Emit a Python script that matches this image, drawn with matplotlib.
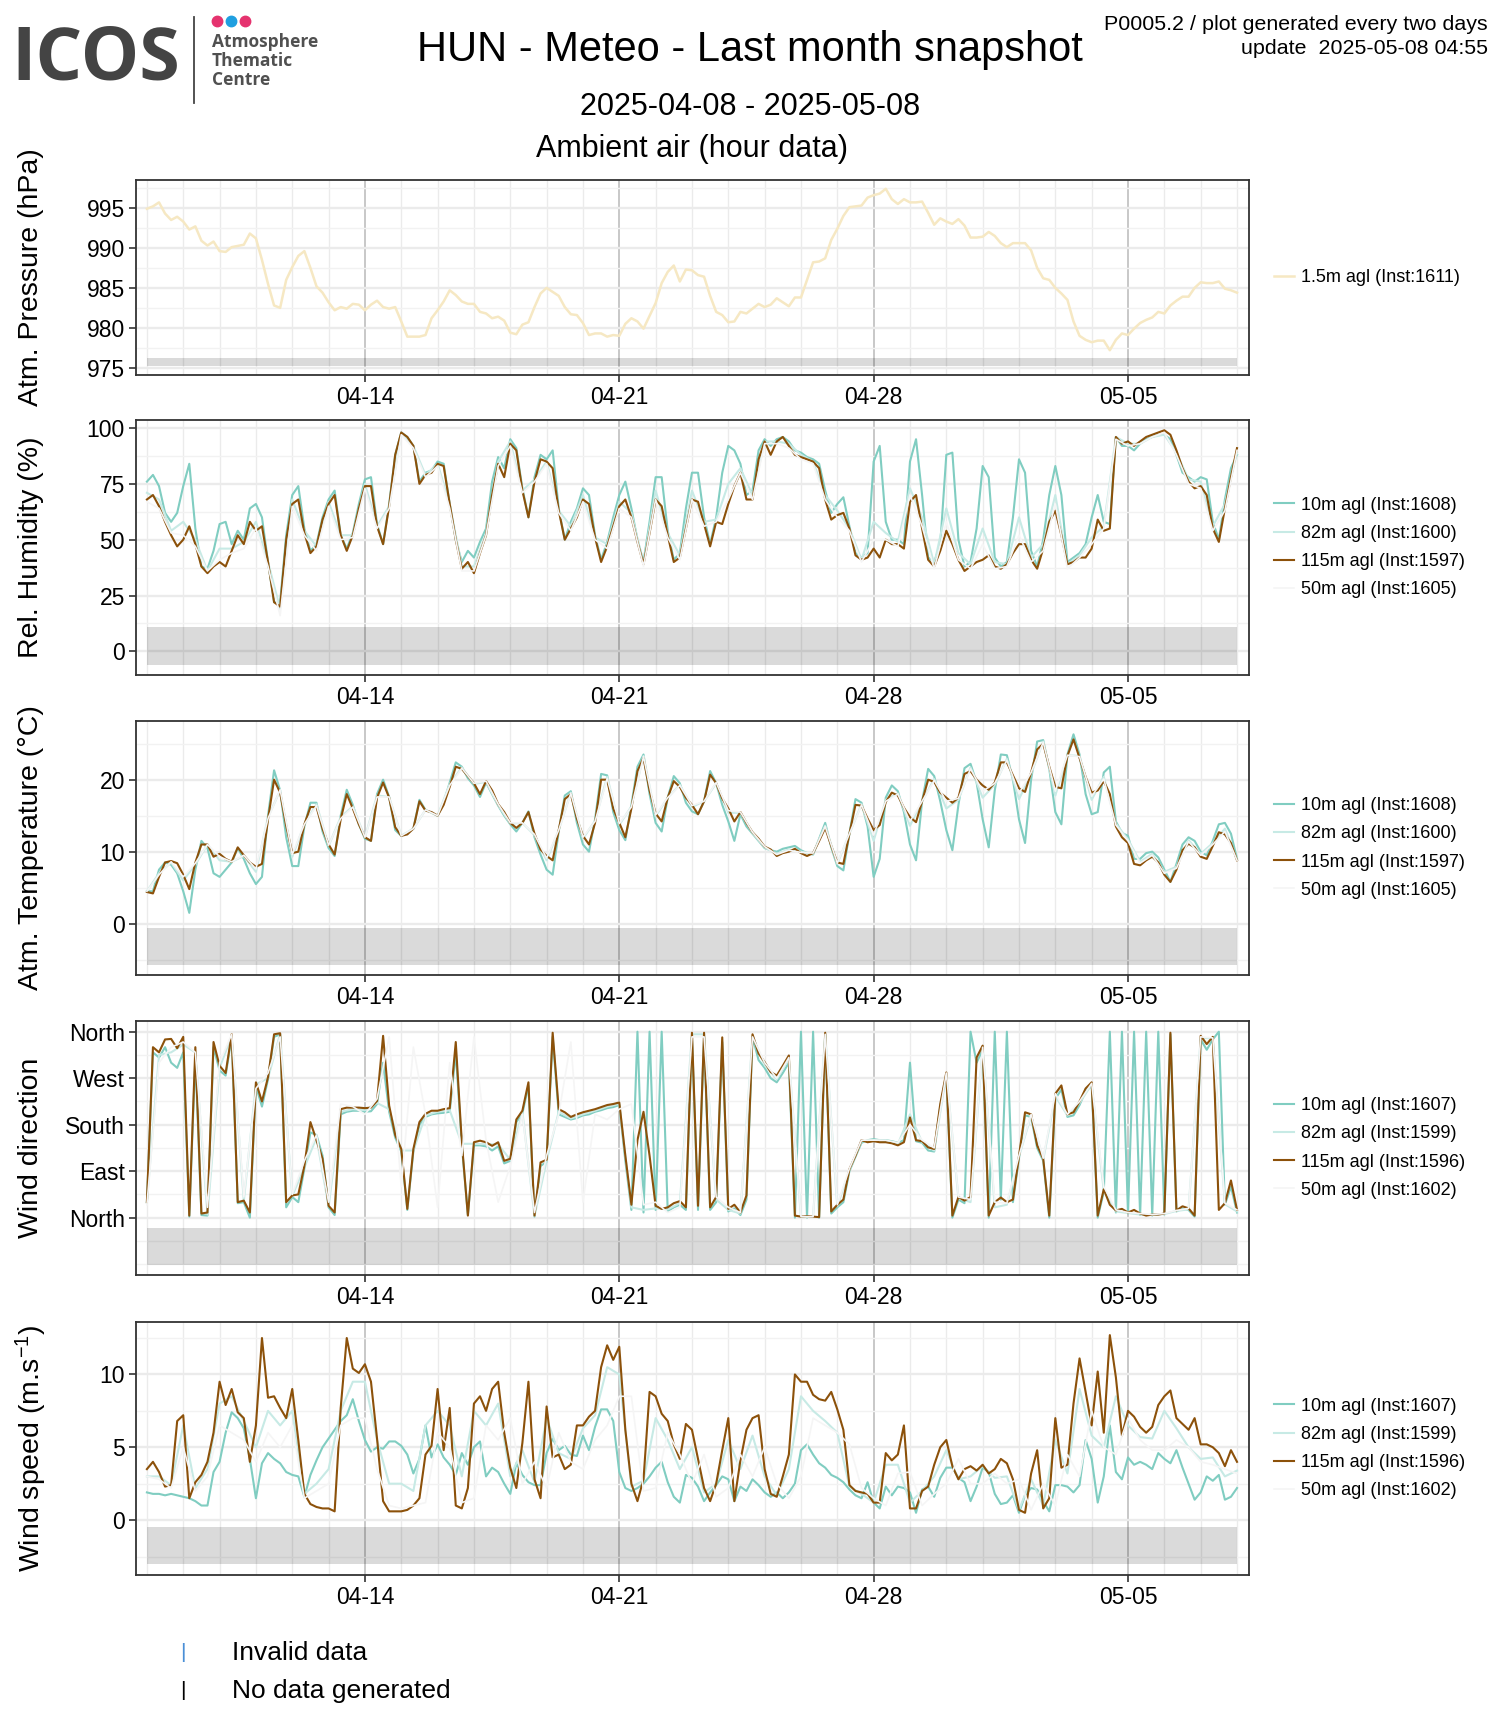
import numpy as np
import matplotlib
matplotlib.use('Agg')
import matplotlib.pyplot as plt
import matplotlib.dates as mdates
from matplotlib.lines import Line2D

plt.rcParams['font.family'] = ['Liberation Sans', 'DejaVu Sans']
plt.rcParams['mathtext.fontset'] = 'custom'
plt.rcParams['mathtext.rm'] = 'Liberation Sans'
plt.rcParams['mathtext.it'] = 'Liberation Sans:italic'

# ---- data (hourly snapshot, 4 h / 8 h steps) ----
start = np.datetime64('2025-04-08T00:00')

pressure_15 = [
    994.9, 995.2, 995.7, 994.3, 993.5, 993.9, 993.3, 992.3, 992.7, 990.9,
    990.3, 990.8, 989.6, 989.5, 990.1, 990.25, 990.4, 991.8, 991.2, 988.5,
    985.5, 982.8, 982.5, 986.0, 987.6, 989.0, 989.6, 987.5, 985.2, 984.4,
    983.2, 982.2, 982.6, 982.4, 983.0, 982.9, 982.2, 982.9, 983.4, 982.6,
    982.4, 982.6, 980.8, 978.9, 978.9, 978.9, 979.1, 981.2, 982.2, 983.3,
    984.7, 984.1, 983.3, 983.0, 983.0, 982.0, 981.8, 981.2, 981.4, 980.9,
    979.4, 979.2, 980.4, 980.7, 982.6, 984.3, 985.0, 984.5, 984.0, 982.6,
    981.7, 981.6, 980.6, 979.1, 979.3, 979.3, 978.9, 979.1, 979.0, 980.5,
    981.2, 980.8, 979.9, 981.5, 983.1, 985.6, 987.0, 987.8, 985.8, 987.3,
    987.2, 986.6, 986.4, 984.0, 982.0, 981.6, 980.7, 980.8, 982.0, 981.8,
    982.4, 983.0, 982.6, 982.9, 983.7, 983.2, 982.7, 983.8, 983.8, 986.0,
    988.2, 988.3, 988.7, 991.0, 992.4, 994.0, 995.1, 995.2, 995.3, 996.3,
    996.6, 996.8, 997.4, 996.1, 995.5, 996.1, 995.7, 995.7, 995.8, 994.4,
    992.9, 993.7, 993.3, 993.0, 993.6, 992.8, 991.3, 991.3, 991.4, 992.0,
    991.5, 990.6, 990.1, 990.6, 990.6, 990.6, 989.7, 987.5, 986.2, 986.0,
    985.0, 984.3, 983.5, 980.8, 979.0, 978.5, 978.2, 978.4, 978.4, 977.2,
    978.5, 979.3, 979.1, 979.9, 980.6, 981.0, 981.3, 982.0, 981.8, 982.8,
    983.4, 983.9, 983.9, 985.0, 985.7, 985.6, 985.6, 985.8, 984.9, 984.7,
    984.4]

rh_10 = [
    76, 79, 74, 62, 58, 62, 74, 84, 55, 38, 37, 45, 57, 58, 48, 54, 50, 64, 66, 60,
    40, 22, 22, 52, 70, 74, 55, 45, 48, 60, 68, 72, 52, 46, 53, 66, 77, 78, 57, 48,
    66, 88, 98, 96, 92, 76, 80, 81, 85, 84, 66, 50, 40, 45, 42, 49, 55, 76, 87, 82,
    95, 91, 73, 60, 78, 88, 86, 90, 64, 50, 58, 64, 73, 70, 52, 41, 49, 60, 70, 76,
    64, 50, 40, 58, 78, 78, 54, 41, 44, 64, 80, 80, 60, 48, 60, 80, 92, 90, 84, 70,
    72, 90, 95, 92, 95, 96, 94, 90, 89, 87, 86, 84, 72, 62, 66, 69, 56, 44, 42, 44,
    85, 92, 58, 50, 50, 48, 85, 95, 70, 42, 40, 48, 88, 89, 50, 38, 40, 55, 83, 78,
    42, 38, 40, 60, 86, 80, 45, 38, 50, 70, 83, 70, 40, 42, 44, 48, 60, 70, 58, 57,
    96, 92, 92, 90, 93, 95, 96, 97, 97, 95, 88, 80, 78, 76, 78, 77, 58, 50, 68, 82,
    88]
rh_115 = [
    68, 70, 65, 58, 52, 47, 50, 56, 48, 38, 35, 38, 40, 38, 45, 52, 48, 58, 54, 56,
    40, 22, 20, 50, 66, 68, 53, 44, 47, 59, 66, 70, 52, 45, 52, 64, 74, 74, 56, 48,
    65, 88, 98, 96, 92, 75, 79, 80, 84, 83, 66, 50, 37, 40, 35, 44, 52, 70, 84, 78,
    93, 90, 72, 60, 76, 86, 85, 82, 63, 50, 55, 60, 68, 66, 51, 40, 47, 56, 65, 68,
    60, 49, 39, 53, 68, 65, 52, 40, 42, 55, 68, 67, 57, 47, 58, 57, 66, 74, 80, 68,
    68, 86, 94, 88, 94, 96, 92, 88, 87, 86, 85, 82, 68, 59, 61, 62, 55, 43, 41, 42,
    46, 42, 50, 48, 48, 46, 67, 70, 55, 41, 38, 45, 54, 48, 41, 36, 38, 40, 41, 43,
    38, 37, 39, 44, 48, 48, 41, 37, 46, 58, 63, 52, 39, 40, 42, 42, 46, 59, 54, 55,
    96, 93, 94, 92, 94, 96, 97, 98, 99, 97, 90, 82, 76, 73, 74, 70, 55, 49, 64, 78,
    91]
rh_82 = [
    71, 68, 54, 58, 50, 36, 46, 46, 49, 58, 40, 19, 68, 54, 47, 67, 52, 52, 75, 56,
    65, 98, 92, 79, 84, 66, 38, 38, 53, 85, 94, 72, 77, 85, 63, 56, 70, 51, 48, 67,
    62, 39, 72, 53, 43, 72, 58, 59, 75, 82, 70, 94, 94, 93, 88, 85, 70, 63, 55, 41,
    58, 53, 49, 73, 60, 39, 64, 44, 39, 55, 40, 39, 60, 42, 48, 70, 39, 43, 51, 56,
    96, 93, 93, 96, 97, 89, 77, 76, 56, 66, 89]
rh_50 = [
    67, 64, 53, 52, 47, 36, 41, 44, 46, 55, 38, 16, 65, 52, 45, 65, 50, 51, 73, 55,
    64, 97, 91, 78, 83, 64, 36, 36, 52, 83, 92, 71, 76, 84, 62, 54, 67, 50, 46, 64,
    60, 38, 68, 51, 41, 68, 56, 58, 68, 80, 68, 93, 93, 91, 86, 84, 68, 60, 54, 40,
    50, 50, 47, 70, 56, 37, 58, 41, 37, 48, 37, 38, 52, 40, 45, 66, 37, 42, 48, 55,
    95, 92, 93, 96, 98, 88, 75, 73, 54, 63, 90]

temp_10 = [
    4.5, 4.5, 7.5, 8.5, 8.2, 7.0, 4.5, 1.5, 7.5, 11.5, 10.5, 7.0, 6.5, 7.5, 8.5, 10.5, 9.0, 7.0, 5.5, 6.5,
    15.0, 21.3, 18.5, 12.0, 8.0, 8.0, 13.5, 16.8, 16.8, 12.8, 10.5, 9.4, 15.0, 18.6, 16.5, 13.8, 11.8, 11.5, 18.0, 20.0,
    17.6, 13.0, 12.2, 12.6, 13.2, 17.2, 15.8, 15.4, 15.0, 16.8, 19.6, 22.4, 21.8, 20.2, 19.2, 17.6, 19.6, 18.0, 16.4, 15.0,
    13.8, 12.8, 14.0, 15.6, 12.0, 9.6, 7.5, 6.8, 12.8, 17.8, 18.4, 14.0, 11.0, 10.0, 14.5, 20.8, 20.6, 15.5, 13.0, 11.6,
    16.5, 21.8, 23.5, 18.0, 14.0, 12.8, 17.5, 20.5, 19.5, 16.8, 15.6, 15.2, 17.0, 21.2, 19.5, 16.5, 14.2, 11.5, 15.2, 13.5,
    12.5, 11.5, 10.5, 10.2, 10.0, 10.4, 10.6, 10.8, 10.2, 9.8, 9.6, 11.8, 14.0, 10.6, 8.0, 7.4, 12.5, 17.3, 16.8, 13.5,
    6.5, 9.0, 17.5, 19.2, 18.4, 15.5, 11.0, 8.8, 17.0, 21.5, 20.5, 17.0, 13.0, 10.2, 16.5, 21.6, 22.2, 19.6, 14.5, 10.6,
    18.5, 23.5, 23.4, 20.0, 14.5, 11.2, 20.0, 25.3, 25.5, 21.5, 15.5, 13.8, 23.5, 26.3, 23.5, 18.0, 15.2, 15.5, 21.0, 21.8,
    14.2, 12.6, 12.2, 9.0, 9.0, 9.8, 10.0, 9.2, 7.5, 5.8, 8.3, 11.0, 12.0, 11.5, 10.0, 9.5, 11.5, 13.8, 14.0, 12.5,
    9.0]
temp_115 = [
    4.4, 4.2, 6.5, 8.5, 8.7, 8.4, 6.8, 4.8, 8.5, 11.0, 11.0, 9.3, 9.7, 9.0, 8.6, 10.6, 9.5, 8.5, 7.9, 8.3,
    14.5, 20.0, 18.2, 13.6, 9.8, 10.0, 13.8, 16.2, 16.2, 13.2, 11.0, 9.6, 14.5, 18.0, 16.0, 13.8, 12.0, 11.5, 17.5, 19.6,
    17.5, 13.4, 12.2, 12.4, 13.2, 17.0, 15.7, 15.5, 15.0, 16.5, 19.0, 21.8, 21.5, 20.5, 19.5, 18.0, 19.8, 18.5, 16.6, 15.5,
    14.0, 13.3, 14.0, 15.5, 12.5, 10.3, 9.4, 8.8, 13.0, 17.3, 18.0, 14.6, 12.2, 11.0, 14.0, 20.0, 20.0, 16.0, 14.0, 12.0,
    16.0, 21.2, 23.0, 18.5, 15.3, 14.2, 17.5, 19.8, 19.0, 17.5, 16.5, 15.2, 17.0, 20.7, 19.5, 17.4, 16.0, 14.2, 15.5, 14.0,
    12.7, 11.8, 10.7, 10.3, 9.4, 9.8, 10.0, 10.4, 9.8, 9.4, 9.8, 11.5, 13.3, 10.8, 8.5, 8.3, 12.5, 16.5, 16.4, 14.6,
    13.0, 13.7, 16.9, 18.2, 17.8, 16.1, 14.8, 14.1, 17.0, 20.0, 19.7, 18.2, 17.5, 16.8, 17.5, 20.8, 21.2, 20.0, 19.2, 18.6,
    19.6, 22.4, 22.4, 20.6, 18.8, 18.3, 21.0, 24.2, 25.0, 21.8, 19.0, 18.8, 23.3, 25.6, 23.0, 20.4, 18.2, 18.5, 19.8, 18.0,
    13.5, 12.0, 11.2, 8.3, 8.1, 8.8, 9.3, 8.5, 6.8, 5.8, 7.5, 10.2, 11.1, 10.6, 9.3, 9.0, 10.8, 12.7, 12.4, 11.2,
    8.8]
temp_82 = [
    4.5, 7.0, 8.5, 6.0, 8.2, 11.0, 8.8, 8.6, 9.4, 7.2, 14.8, 18.5, 9.3, 13.8, 16.6, 10.8, 14.8, 16.3, 12.0, 17.8,
    17.6, 12.2, 13.2, 15.8, 15.0, 19.4, 21.7, 19.4, 19.7, 16.5, 13.9, 14.0, 12.3, 8.8, 13.0, 18.2, 11.8, 14.3, 20.4, 13.7,
    16.3, 23.3, 14.9, 17.5, 19.3, 16.2, 17.0, 19.5, 15.4, 15.4, 12.6, 10.6, 9.7, 10.3, 10.0, 9.7, 13.6, 8.3, 12.5, 16.6,
    11.5, 17.2, 18.1, 13.6, 17.0, 20.1, 16.0, 17.2, 21.7, 17.5, 19.3, 22.9, 17.3, 20.8, 25.3, 17.8, 23.4, 23.3, 17.2, 20.4,
    13.9, 11.7, 8.6, 9.7, 7.2, 7.9, 11.6, 9.7, 11.2, 13.2, 8.9]
temp_50 = [
    4.5, 6.8, 8.6, 6.5, 8.4, 11.0, 9.3, 8.6, 9.5, 7.6, 14.6, 18.6, 9.6, 13.8, 16.4, 10.9, 14.6, 16.2, 12.0, 17.6,
    17.6, 12.2, 13.2, 15.8, 15.0, 19.2, 21.6, 19.5, 19.8, 16.6, 14.0, 14.0, 12.4, 9.1, 13.0, 18.1, 12.0, 14.2, 20.2, 13.9,
    16.2, 23.2, 15.1, 17.5, 19.2, 16.4, 17.0, 19.6, 15.7, 15.5, 12.7, 10.7, 9.6, 10.2, 9.9, 9.8, 13.5, 8.4, 12.5, 16.5,
    12.3, 17.0, 18.0, 14.2, 17.0, 19.9, 17.0, 17.4, 21.5, 18.4, 19.5, 22.7, 18.1, 21.0, 25.2, 18.4, 23.4, 23.2, 17.7, 20.1,
    13.7, 11.5, 8.4, 9.5, 7.0, 7.7, 11.4, 9.5, 11.0, 12.8, 8.8]

wd_10 = [
    30, 320, 310, 330, 300, 290, 320, 2, 310, 5, 4, 330, 285, 275, 350, 28, 30, 0, 255, 215,
    268, 350, 355, 20, 40, 30, 95, 165, 160, 120, 20, 5, 200, 205, 207, 207, 205, 206, 220, 300,
    205, 155, 128, 15, 128, 180, 195, 200, 202, 203, 205, 320, 140, 5, 140, 140, 138, 130, 138, 105,
    110, 185, 202, 255, 2, 100, 108, 350, 200, 195, 190, 193, 198, 200, 205, 208, 212, 214, 218, 110,
    15, 360, 10, 360, 15, 360, 12, 20, 25, 15, 350, 15, 350, 15, 30, 340, 12, 18, 5, 35,
    350, 305, 290, 270, 262, 280, 300, 0, 360, 0, 360, 0, 355, 8, 20, 30, 90, 118, 145, 150,
    152, 150, 150, 148, 145, 150, 300, 148, 145, 130, 128, 215, 275, 0, 35, 28, 360, 300, 325, 0,
    360, 35, 360, 30, 115, 198, 195, 135, 110, 0, 230, 248, 195, 198, 218, 245, 255, 0, 50, 360,
    10, 360, 8, 360, 5, 360, 4, 360, 6, 355, 12, 18, 15, 2, 345, 325, 345, 360, 25, 60,
    10]
wd_115 = [
    30, 330, 320, 345, 346, 328, 350, 4, 330, 8, 10, 340, 294, 280, 355, 30, 33, 10, 262, 225,
    272, 355, 357, 30, 43, 45, 100, 185, 150, 114, 23, 10, 210, 213, 213, 213, 212, 213, 226, 352,
    217, 160, 133, 17, 133, 185, 201, 207, 207, 210, 212, 340, 146, 4, 146, 149, 146, 139, 146, 110,
    114, 190, 207, 262, 4, 107, 112, 358, 210, 204, 195, 200, 204, 207, 210, 214, 218, 220, 223, 120,
    25, 150, 205, 120, 23, 17, 20, 28, 32, 20, 358, 23, 358, 20, 40, 349, 17, 25, 10, 43,
    355, 318, 301, 282, 275, 294, 314, 4, 2, 3, 2, 1, 358, 12, 25, 35, 94, 120, 150, 146,
    148, 146, 146, 144, 140, 146, 194, 150, 148, 136, 133, 220, 281, 4, 40, 33, 40, 310, 333, 4,
    30, 39, 30, 35, 120, 204, 200, 140, 114, 4, 240, 256, 200, 204, 225, 250, 262, 4, 55, 25,
    14, 17, 10, 15, 8, 4, 6, 6, 8, 358, 14, 22, 18, 4, 352, 336, 350, 15, 28, 72,
    15]
wd_82 = [
    30, 315, 320, 335, 320, 6, 290, 352, 32, 258, 270, 356, 42, 97, 155, 22, 205, 210, 208, 222,
    210, 130, 130, 198, 205, 208, 143, 143, 142, 142, 112, 205, 3, 110, 205, 192, 200, 207, 215, 220,
    20, 15, 18, 16, 28, 355, 355, 35, 15, 8, 352, 295, 268, 308, 1, 2, 356, 22, 92, 148,
    150, 148, 142, 200, 146, 130, 278, 38, 30, 330, 20, 25, 118, 198, 112, 235, 198, 222, 258, 52,
    12, 9, 6, 5, 7, 13, 16, 348, 347, 26, 12]
wd_50 = [
    25, 300, 330, 340, 320, 20, 300, 355, 40, 250, 280, 350, 45, 110, 160, 30, 220, 215, 200, 230,
    350, 60, 330, 200, 20, 300, 120, 350, 150, 30, 100, 200, 10, 120, 200, 340, 30, 200, 190, 210,
    220, 25, 30, 10, 20, 350, 350, 40, 20, 10, 350, 300, 270, 310, 2, 2, 355, 25, 95, 150,
    150, 150, 145, 180, 150, 135, 280, 40, 35, 330, 30, 28, 120, 200, 115, 240, 200, 225, 260, 60,
    15, 10, 8, 6, 8, 14, 18, 350, 348, 28, 15]

ws_10 = [
    1.9, 1.8, 1.8, 1.7, 1.8, 1.7, 1.6, 1.5, 1.3, 1.0, 1.0, 3.3, 4.0, 6.0, 7.4, 7.0, 6.3, 4.2, 1.5, 3.9,
    4.6, 4.2, 3.9, 3.3, 3.1, 3.0, 1.6, 3.1, 4.1, 5.0, 5.6, 6.2, 6.8, 7.2, 8.3, 6.8, 5.5, 4.7, 5.0, 4.9,
    5.4, 5.4, 5.1, 4.5, 3.2, 4.2, 6.5, 4.3, 5.2, 4.3, 3.8, 3.1, 4.6, 3.8, 5.0, 5.4, 3.0, 3.6, 3.3, 2.5,
    1.8, 3.9, 3.1, 2.6, 2.4, 2.4, 4.6, 5.6, 4.8, 5.1, 4.5, 4.4, 5.8, 4.8, 6.4, 7.6, 7.6, 6.8, 3.3, 2.2,
    2.0, 2.2, 2.5, 3.0, 3.6, 4.0, 2.6, 1.6, 1.2, 3.1, 2.9, 2.3, 1.3, 1.9, 2.4, 3.0, 2.8, 1.3, 2.3, 2.0,
    2.8, 2.4, 1.9, 1.6, 1.9, 1.5, 1.9, 2.5, 4.8, 5.2, 4.5, 3.9, 3.6, 3.1, 2.9, 2.6, 2.1, 1.7, 1.5, 2.6,
    1.2, 0.8, 2.3, 1.7, 2.3, 2.2, 1.9, 0.5, 2.1, 2.3, 1.6, 2.9, 3.6, 3.6, 2.9, 2.6, 1.3, 2.3, 3.6, 3.3,
    1.8, 1.1, 1.2, 1.7, 0.5, 1.7, 2.2, 2.1, 1.3, 0.6, 2.4, 2.4, 2.3, 1.9, 2.4, 5.5, 4.2, 1.2, 3.0, 6.5,
    3.3, 2.8, 4.3, 3.8, 4.0, 3.8, 3.5, 4.6, 4.2, 3.9, 4.8, 3.6, 2.5, 1.4, 1.9, 3.0, 2.7, 3.1, 1.4, 1.6,
    2.2]
ws_115 = [
    3.5, 4.0, 3.3, 2.3, 2.4, 6.8, 7.2, 1.5, 2.6, 3.1, 4.0, 6.0, 9.5, 7.9, 9.0, 7.4, 7.0, 4.0, 6.5, 12.5,
    8.4, 8.5, 7.7, 7.0, 9.0, 5.5, 1.8, 1.1, 0.9, 0.8, 0.8, 0.6, 7.7, 12.5, 10.4, 10.1, 10.7, 9.5, 5.6, 1.3,
    0.6, 0.6, 0.6, 0.7, 1.0, 1.5, 4.5, 5.1, 9.0, 4.8, 7.7, 1.0, 0.8, 2.2, 8.0, 8.5, 7.5, 9.0, 9.5, 6.0,
    3.6, 2.2, 5.3, 9.5, 2.8, 1.5, 7.8, 4.3, 4.5, 3.5, 3.8, 6.5, 6.5, 7.1, 7.5, 10.5, 12.0, 11.0, 11.9, 6.2,
    2.5, 1.3, 2.8, 8.8, 8.5, 7.3, 6.8, 5.2, 4.2, 6.6, 6.2, 4.2, 2.2, 1.3, 2.5, 4.8, 7.0, 1.3, 4.1, 6.2,
    7.0, 7.2, 3.5, 1.8, 1.6, 3.0, 4.5, 10.0, 9.5, 9.5, 8.6, 8.3, 8.2, 8.8, 7.6, 6.2, 2.4, 2.0, 1.9, 1.8,
    1.2, 1.2, 4.6, 4.1, 4.5, 6.5, 0.8, 0.8, 2.0, 2.3, 3.8, 5.0, 5.5, 3.7, 2.8, 3.5, 3.7, 3.4, 3.8, 3.2,
    3.5, 4.2, 3.9, 2.8, 0.7, 0.5, 3.2, 4.8, 0.8, 1.5, 7.0, 3.6, 3.8, 8.0, 11.1, 8.8, 6.5, 10.2, 6.0, 12.7,
    9.8, 5.8, 7.5, 7.1, 6.4, 6.0, 6.4, 7.9, 8.5, 8.9, 7.0, 6.6, 6.2, 7.0, 5.2, 5.2, 5.0, 4.6, 3.7, 4.8,
    4.0]
ws_82 = [
    3.0, 3.0, 2.4, 6.5, 2.2, 3.5, 8.0, 8.5, 6.8, 5.0, 7.5, 6.5, 7.5, 1.8, 2.5, 3.5, 7.5, 9.5, 9.5, 5.5,
    2.5, 2.5, 2.0, 6.5, 7.5, 6.5, 3.0, 7.5, 6.5, 8.0, 3.0, 4.8, 2.6, 7.0, 4.6, 4.2, 6.3, 7.2, 10.5, 10.0,
    2.3, 2.7, 7.0, 5.5, 3.5, 5.0, 1.9, 2.5, 5.5, 3.5, 5.8, 3.0, 1.7, 3.5, 8.5, 7.5, 6.8, 6.0, 2.3, 1.8,
    1.2, 3.8, 3.8, 1.2, 2.0, 3.0, 4.8, 2.8, 3.0, 3.7, 2.9, 3.0, 0.7, 2.8, 1.0, 5.5, 3.2, 9.0, 5.8, 5.0,
    8.5, 6.5, 5.7, 5.6, 7.5, 6.3, 5.0, 4.2, 4.3, 3.0, 3.4]
ws_50 = [
    3.0, 2.8, 2.2, 5.0, 2.0, 3.0, 6.5, 6.0, 5.5, 4.0, 6.0, 5.0, 6.5, 1.5, 2.0, 2.5, 6.5, 7.0, 7.0, 3.5,
    1.0, 0.8, 1.0, 1.2, 6.0, 5.0, 1.2, 1.5, 6.5, 5.5, 7.0, 2.5, 4.0, 2.2, 6.0, 4.0, 3.5, 5.5, 6.5, 8.5,
    8.5, 2.0, 2.2, 6.0, 4.5, 2.5, 4.5, 1.6, 2.2, 4.5, 3.0, 5.0, 2.5, 1.5, 3.0, 7.0, 6.5, 6.0, 5.2, 2.2,
    1.5, 1.0, 3.2, 3.3, 1.0, 1.8, 2.5, 4.2, 2.5, 2.5, 3.2, 2.5, 2.8, 0.7, 2.5, 1.0, 4.5, 3.0, 7.5, 5.0,
    4.5, 7.0, 5.5, 4.8, 4.8, 5.5, 5.0, 4.0, 3.8, 3.5, 3.2]

compass = ['North', 'East', 'South', 'West', 'North']

C10, C82, C115, C50, CP = '#80cdc1', '#c7eae5', '#8c510a', '#f5f5f5', '#f6e8c3'


def times(vals, step_h):
    return start + np.arange(len(vals)) * np.timedelta64(step_h, 'h')


W, H = 1500, 1725
fig = plt.figure(figsize=(15, 17.25), dpi=100)

X0, X1 = 136, 1249


def make_ax(top, bottom):
    return fig.add_axes([X0 / W, 1 - bottom / H, (X1 - X0) / W, (bottom - top) / H])


def style(ax, ylim, band, majors, minors, ylabel, legend_labels, handles):
    ax.set_xlim(start - np.timedelta64(432, 'm'), start + np.timedelta64(30 * 1440 + 475, 'm'))
    ax.set_ylim(*ylim)
    ax.set_yticks(majors)
    ax.set_yticks(minors, minor=True)
    ax.xaxis.set_major_locator(mdates.WeekdayLocator(byweekday=mdates.MO))
    ax.xaxis.set_minor_locator(mdates.DayLocator())
    ax.xaxis.set_major_formatter(mdates.DateFormatter('%m-%d'))
    ax.set_axisbelow(True)
    ax.grid(which='major', axis='y', color='#ebebeb', lw=1.7)
    ax.grid(which='minor', axis='y', color='#f2f2f2', lw=1.0)
    ax.grid(which='minor', axis='x', color='#ebebeb', lw=1.0)
    ax.grid(which='major', axis='x', color='#c4c4c4', lw=1.3)
    ax.fill_between([start, start + np.timedelta64(30, 'D')], band[0], band[1],
                    color='black', alpha=0.145, lw=0, zorder=1)
    ax.tick_params(which='major', length=5, width=1.2, color='#333333',
                   labelsize=16.5, pad=3, labelcolor='black')
    ax.tick_params(which='minor', length=0)
    for s in ax.spines.values():
        s.set_color('#333333')
        s.set_linewidth(1.3)
    pos = ax.get_position()
    fig.text(31 / W, pos.y0 + pos.height / 2, ylabel, rotation=90,
             ha='center', va='center', fontsize=20.5)
    ax.legend(handles, legend_labels, loc='center left', bbox_to_anchor=(1.0225, 0.5),
              frameon=False, fontsize=13, handlelength=1.1, handletextpad=0.4,
              labelspacing=0.62, borderaxespad=0, borderpad=0)


def four(ax, s10, s82, s115, s50):
    h = []
    h += ax.plot(times(s10, 4), s10, color=C10, lw=1.5, zorder=2)
    h += ax.plot(times(s82, 8), s82, color=C82, lw=1.5, zorder=2)
    h += ax.plot(times(s115, 4), s115, color=C115, lw=1.5, zorder=2)
    h += ax.plot(times(s50, 8), s50, color=C50, lw=1.2, zorder=2)
    return h


met_labels = ['10m agl (Inst:1608)', '82m agl (Inst:1600)',
              '115m agl (Inst:1597)', '50m agl (Inst:1605)']
wind_labels = ['10m agl (Inst:1607)', '82m agl (Inst:1599)',
               '115m agl (Inst:1596)', '50m agl (Inst:1602)']

# pressure
ax1 = make_ax(180, 375)
h = ax1.plot(times(pressure_15, 4), pressure_15, color=CP, lw=1.8, zorder=2)
style(ax1, (974.1, 998.5), (975.2, 976.2), [975, 980, 985, 990, 995],
      [977.5, 982.5, 987.5, 992.5, 997.5], 'Atm. Pressure (hPa)',
      ['1.5m agl (Inst:1611)'], h)

# humidity
ax2 = make_ax(420, 675)
h = four(ax2, rh_10, rh_82, rh_115, rh_50)
style(ax2, (-10.6, 103.6), (-6, 10.7), [0, 25, 50, 75, 100],
      [12.5, 37.5, 62.5, 87.5], 'Rel. Humidity (%)', met_labels, h)

# temperature
ax3 = make_ax(721, 975)
h = four(ax3, temp_10, temp_82, temp_115, temp_50)
style(ax3, (-7.13, 28.15), (-5.7, -0.56), [0, 10, 20],
      [-5, 5, 15, 25], 'Atm. Temperature (°C)', met_labels, h)

# wind direction
ax4 = make_ax(1021, 1275)
h = four(ax4, wd_10, wd_82, wd_115, wd_50)
style(ax4, (-111, 380.7), (-91, -19.4), [0, 90, 180, 270, 360],
      [-90, -45, 45, 135, 225, 315], 'Wind direction', wind_labels, h)
ax4.set_yticklabels(compass)

# wind speed
ax5 = make_ax(1322, 1575)
h = four(ax5, ws_10, ws_82, ws_115, ws_50)
style(ax5, (-3.77, 13.6), (-3.04, -0.5), [0, 5, 10],
      [-2.5, 2.5, 7.5, 12.5], r'Wind speed (m.s$^{-1}$)', wind_labels, h)

# ---- header ----
fig.text(0.5, 1 - 50 / H, 'HUN - Meteo - Last month snapshot', ha='center', va='center', fontsize=30)
fig.text(0.5, 1 - 107 / H, '2025-04-08 - 2025-05-08', ha='center', va='center', fontsize=22)
fig.text((X0 + X1) / 2 / W, 1 - 149 / H, 'Ambient air (hour data)', ha='center', va='center', fontsize=22)
fig.text(1488 / W, 1 - 24 / H, 'P0005.2 / plot generated every two days', ha='right', va='center', fontsize=15.4)
fig.text(1488 / W, 1 - 49 / H, 'update  2025-05-08 04:55', ha='right', va='center', fontsize=15.4)

# logo
fig.text(11 / W, 1 - 60 / H, 'ICOS', fontfamily='Open Sans', fontweight='bold',
         fontsize=53, color='#444444', ha='left', va='center')
fig.add_artist(Line2D([194 / W, 194 / W], [1 - 17 / H, 1 - 103 / H], color='#444444', lw=1.3))
for x, c in zip([217, 231, 245], ['#e5336f', '#1f9fe0', '#e5336f']):
    fig.add_artist(Line2D([x / W], [1 - 21 / H], marker='o', markersize=7.5, color=c,
                          transform=fig.transFigure))
fig.text(212 / W, 1 - 61 / H, 'Atmosphere\nThematic\nCentre', fontfamily='Open Sans',
         fontweight='bold', fontsize=12.5, color='#505050', ha='left', va='center',
         linespacing=1.05)

# bottom legend
fig.text(183 / W, 1 - 1653 / H, '|', color='#4a8fd6', fontsize=15, ha='center', va='center')
fig.text(232 / W, 1 - 1653 / H, 'Invalid data', fontsize=19, ha='left', va='center')
fig.text(183 / W, 1 - 1691 / H, '|', color='black', fontsize=15, ha='center', va='center')
fig.text(232 / W, 1 - 1691 / H, 'No data generated', fontsize=19, ha='left', va='center')

fig.savefig('out.png', dpi=100)
